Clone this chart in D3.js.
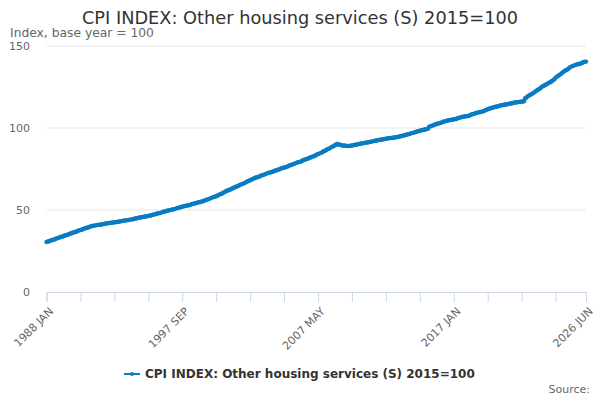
<!DOCTYPE html>
<html>
<head>
<meta charset="utf-8">
<script src="https://cdn.jsdelivr.net/npm/d3@7"></script>
<style>
  body { margin: 0; background: #fff; }
  svg { font-family: "DejaVu Sans", sans-serif; }
</style>
</head>
<body>
<svg id="chart" width="600" height="400"></svg>
<script>
// monthly index values, one row per year, 1988 JAN .. 2026 JUN
var values = [
  30.5,30.7,30.9,31.3,31.5,31.7,31.9,32.2,32.5,32.8,33.0,33.3,
  33.5,33.7,33.9,34.3,34.5,34.7,34.9,35.2,35.5,35.8,36.0,36.3,
  36.5,36.7,36.9,37.4,37.6,37.8,38.0,38.3,38.6,38.9,39.1,39.3,
  39.5,39.8,40.0,40.3,40.4,40.5,40.6,40.8,40.9,41.0,41.1,41.2,
  41.4,41.5,41.6,41.8,41.9,42.0,42.1,42.2,42.3,42.4,42.5,42.6,
  42.7,42.8,42.9,43.1,43.2,43.3,43.5,43.6,43.7,43.8,43.9,44.0,
  44.2,44.3,44.4,44.7,44.8,45.0,45.1,45.3,45.4,45.6,45.7,45.8,
  46.0,46.1,46.2,46.4,46.5,46.7,46.9,47.1,47.3,47.5,47.7,47.9,
  48.1,48.2,48.4,48.7,48.9,49.1,49.3,49.5,49.7,49.9,50.1,50.2,
  50.4,50.5,50.7,51.0,51.2,51.4,51.6,51.8,52.0,52.2,52.4,52.5,
  52.7,52.8,53.0,53.3,53.5,53.7,53.9,54.1,54.3,54.5,54.7,54.8,
  55.0,55.2,55.4,55.8,56.0,56.3,56.5,56.8,57.1,57.4,57.7,57.9,
  58.1,58.4,58.7,59.2,59.5,59.8,60.1,60.5,60.9,61.3,61.7,61.9,
  62.2,62.5,62.8,63.3,63.6,63.9,64.2,64.5,64.8,65.2,65.5,65.8,
  66.1,66.4,66.7,67.2,67.5,67.8,68.1,68.5,68.8,69.2,69.5,69.8,
  70.0,70.2,70.4,70.9,71.1,71.4,71.6,71.9,72.2,72.5,72.7,72.9,
  73.1,73.3,73.5,73.9,74.1,74.4,74.6,74.9,75.2,75.5,75.7,75.9,
  76.1,76.3,76.5,77.0,77.2,77.5,77.7,78.0,78.3,78.6,78.9,79.1,
  79.3,79.5,79.7,80.3,80.5,80.8,81.0,81.3,81.6,81.9,82.2,82.5,
  82.7,83.0,83.3,83.8,84.1,84.4,84.7,85.0,85.4,85.8,86.2,86.6,
  87.0,87.3,87.6,88.2,88.5,88.9,89.3,89.7,90.2,90.1,89.9,89.7,
  89.5,89.3,89.2,89.3,89.1,89.0,89.0,89.1,89.2,89.3,89.5,89.6,
  89.8,89.9,90.0,90.3,90.4,90.5,90.7,90.8,90.9,91.1,91.2,91.3,
  91.5,91.6,91.7,92.0,92.1,92.3,92.4,92.5,92.7,92.8,92.9,93.0,
  93.2,93.3,93.4,93.6,93.7,93.8,93.9,94.0,94.1,94.2,94.3,94.4,
  94.6,94.7,94.8,95.1,95.2,95.4,95.6,95.8,96.0,96.2,96.4,96.6,
  96.9,97.0,97.2,97.5,97.7,97.9,98.1,98.3,98.5,98.7,98.9,99.0,
  99.2,99.4,99.6,100.8,101.0,101.3,101.6,101.8,102.1,102.4,102.6,102.8,
  103.0,103.2,103.4,103.8,104.0,104.2,104.4,104.6,104.8,104.9,105.0,105.1,
  105.3,105.4,105.5,105.9,106.1,106.3,106.5,106.7,106.9,107.0,107.1,107.2,
  107.4,107.5,107.7,108.2,108.4,108.6,108.8,109.1,109.3,109.5,109.7,109.8,
  110.0,110.2,110.4,110.9,111.1,111.4,111.7,111.9,112.2,112.4,112.6,112.8,
  113.0,113.1,113.2,113.6,113.8,113.9,114.0,114.2,114.3,114.4,114.5,114.7,
  114.9,115.0,115.1,115.4,115.5,115.6,115.7,115.8,115.9,116.0,116.1,116.2,
  116.3,118.1,118.4,119.3,119.7,120.1,120.5,120.9,121.4,121.9,122.4,122.9,
  123.4,123.8,124.2,125.0,125.4,125.8,126.2,126.6,127.0,127.4,127.8,128.2,
  128.7,129.2,129.7,130.7,131.2,131.7,132.2,132.7,133.3,133.9,134.4,134.9,
  135.3,135.7,136.1,136.9,137.3,137.6,137.9,138.2,138.5,138.7,138.9,139.0,
  139.2,139.5,139.8,140.2,140.4,140.5
];

var monthNames = ["JAN","FEB","MAR","APR","MAY","JUN","JUL","AUG","SEP","OCT","NOV","DEC"];
var firstYear = 1988;
var yTicks = [0, 50, 100, 150];
var labelledTicks = ["1988 JAN", "1997 SEP", "2007 MAY", "2017 JAN", "2026 JUN"];
var tickStep = 29;

var title = "CPI INDEX: Other housing services (S) 2015=100";
var seriesName = "CPI INDEX: Other housing services (S) 2015=100";
var yTitle = "Index, base year = 100";

// category labels
var months = values.map(function(v, i) {
  return (firstYear + Math.floor(i / 12)) + " " + monthNames[i % 12];
});
var data = values.map(function(v, i) { return {month: months[i], value: v}; });

var tickValues = months.filter(function(m, i) { return i % tickStep === 0; });
if (tickValues.indexOf(months[months.length - 1]) < 0) tickValues.push(months[months.length - 1]);

var svg = d3.select("#chart"),
    margin = {top: 46, right: 14, bottom: 108, left: 46.5},
    width = +svg.attr("width"),
    height = +svg.attr("height");

var color = "#0a7bc4";

var x = d3.scalePoint()
    .domain(months)
    .range([margin.left, width - margin.right]);

var y = d3.scaleLinear()
    .domain([0, 150])
    .range([height - margin.bottom, margin.top]);

// gridlines
svg.append("g")
  .selectAll("line")
  .data(yTicks.filter(function(d) { return d > 0; }))
  .enter().append("line")
    .attr("x1", margin.left)
    .attr("x2", width - margin.right)
    .attr("y1", function(d) { return y(d); })
    .attr("y2", function(d) { return y(d); })
    .attr("stroke", "#e6e6e6")
    .attr("stroke-width", 1);

// y labels
svg.append("g")
  .selectAll("text")
  .data(yTicks)
  .enter().append("text")
    .attr("x", 30)
    .attr("y", function(d) { return y(d) + 4; })
    .attr("text-anchor", "end")
    .attr("font-size", "11px")
    .attr("fill", "#666")
    .text(function(d) { return d; });

// x axis
var xAxis = svg.append("g")
    .attr("transform", "translate(0," + y(0) + ")")
    .call(d3.axisBottom(x).tickValues(tickValues).tickSize(10).tickFormat(function(d) {
      return labelledTicks.indexOf(d) >= 0 ? d : "";
    }));

xAxis.select(".domain").attr("stroke", "#ccd6eb");
xAxis.selectAll(".tick line").attr("stroke", "#ccd6eb");
xAxis.selectAll(".tick text")
    .attr("font-family", "DejaVu Sans, sans-serif")
    .attr("font-size", "11px")
    .attr("fill", "#666")
    .attr("text-anchor", "end")
    .attr("dy", null)
    .attr("y", 0)
    .attr("transform", "translate(7,20) rotate(-45)");

// series line
var line = d3.line()
    .x(function(d) { return x(d.month); })
    .y(function(d) { return y(d.value); });

svg.append("path")
    .datum(data)
    .attr("fill", "none")
    .attr("stroke", color)
    .attr("stroke-width", 2)
    .attr("d", line);

svg.append("g")
  .selectAll("circle")
  .data(data)
  .enter().append("circle")
    .attr("cx", function(d) { return x(d.month); })
    .attr("cy", function(d) { return y(d.value); })
    .attr("r", 2.2)
    .attr("fill", color);

// titles
svg.append("text")
    .attr("x", width / 2)
    .attr("y", 24)
    .attr("text-anchor", "middle")
    .attr("font-size", "17.75px")
    .attr("fill", "#333")
    .text(title);

svg.append("text")
    .attr("x", 10)
    .attr("y", 37)
    .attr("font-size", "12.3px")
    .attr("fill", "#666")
    .text(yTitle);

// legend
var legend = svg.append("g").attr("transform", "translate(0,374)");
legend.append("line")
    .attr("x1", 124).attr("x2", 140)
    .attr("y1", 0).attr("y2", 0)
    .attr("stroke", color).attr("stroke-width", 2);
legend.append("circle")
    .attr("cx", 132).attr("cy", 0).attr("r", 2)
    .attr("fill", color);
legend.append("text")
    .attr("x", 145)
    .attr("y", 4)
    .attr("font-size", "12px")
    .attr("font-weight", "bold")
    .attr("fill", "#333")
    .text(seriesName);

svg.append("text")
    .attr("x", 590)
    .attr("y", 393)
    .attr("text-anchor", "end")
    .attr("font-size", "11px")
    .attr("fill", "#666")
    .text("Source:");
</script>
</body>
</html>
